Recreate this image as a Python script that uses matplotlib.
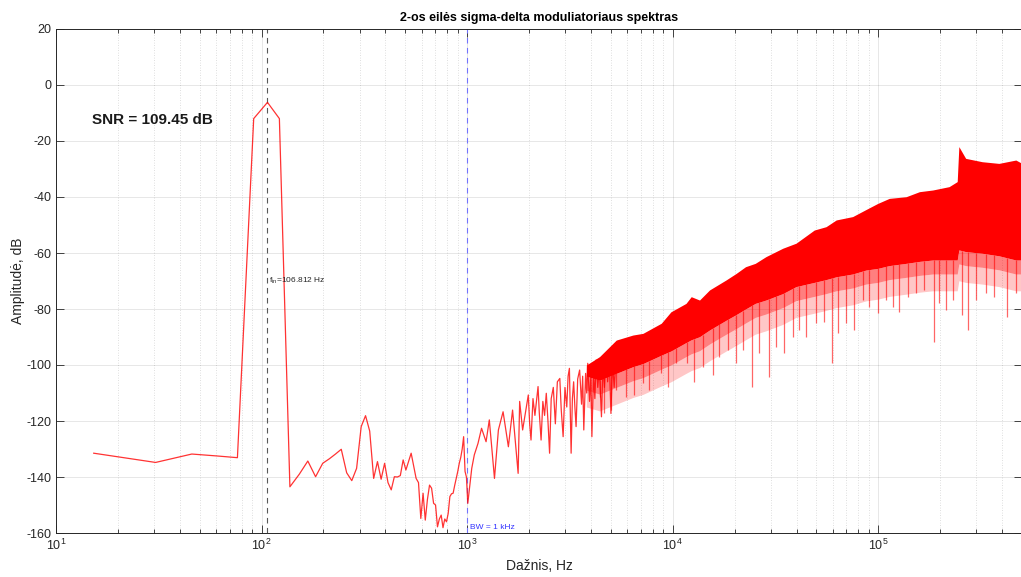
import matplotlib
matplotlib.use("Agg")
import matplotlib.pyplot as plt
import numpy as np
from matplotlib.ticker import LogLocator, MultipleLocator, NullFormatter

# FFT bin width: fs = 1 MHz, N = 65536
df = 1e6 / 65536

# individually visible bins (low frequency part), bin index and amplitude in dB
lo_bins = [1, 2, 3, 4, 5, 6, 7, 8, 9, 10, 11, 12, 13, 14, 15, 16, 17, 18, 19, 20,
           21, 22, 23, 24, 25, 26, 27, 28, 29, 30, 31, 32, 33, 34, 35, 36, 37, 38, 39, 40,
           41, 42, 43, 44, 45, 46, 47, 48, 49, 50, 51, 52, 53, 54, 55, 56, 57, 58, 59, 60,
           61, 62, 63, 64, 65, 66, 69, 71, 74, 77, 81, 84, 89, 93, 98, 104, 109, 116, 118, 122,
           130, 132, 134, 137, 140, 145, 147, 150, 153, 156, 159, 162, 165, 168, 172, 176,
           180, 185, 188, 192, 196, 200, 203, 206, 210, 213, 216, 219, 222, 226, 231, 236,
           239, 242, 247, 250, 253, 258, 262, 265, 270, 274, 278, 283, 288, 295, 300, 305,
           311, 316, 322, 328, 334, 340, 348]
lo_db = [-131.5, -134.8, -131.8, -132.5, -133.1, -12.0, -6.2, -12.0, -143.5, -139.0,
         -134.3, -139.9, -135.1, -133.5, -131.8, -130.1, -138.5, -141.3, -136.9, -122.0,
         -118.1, -123.6, -140.5, -134.5, -140.8, -135.1, -142.0, -144.6, -139.9, -140.0,
         -139.5, -133.9, -137.5, -134.5, -131.5, -136.0, -140.5, -142.0, -154.8, -145.8,
         -155.4, -148.0, -142.9, -144.0, -149.4, -150.0, -157.8, -155.0, -153.6, -158.1,
         -155.0, -156.0, -153.0, -147.0, -146.0, -145.8, -143.0, -140.5, -138.0, -135.1,
         -133.0, -130.0, -125.6, -138.0, -140.0, -149.4, -136.9, -132.1, -128.0, -122.6,
         -127.4, -119.6, -140.5, -123.2, -116.7, -129.2, -116.1, -138.7, -113.0, -123.2,
         -110.7, -121.0, -126.8, -112.0, -118.0, -107.7, -117.0, -126.8, -113.0, -118.0,
         -110.1, -120.0, -131.5, -112.0, -108.0, -121.0, -106.0, -104.8, -116.0, -125.6,
         -108.0, -115.0, -104.0, -101.2, -131.5, -112.0, -106.0, -115.0, -122.0, -105.0,
         -101.8, -114.0, -104.0, -123.2, -103.0, -110.0, -99.4, -113.0, -104.0, -125.6,
         -103.0, -112.0, -98.2, -108.0, -101.0, -118.5, -100.0, -108.0, -95.8, -106.0,
         -98.0, -117.3, -99.0, -108.0, -97.0]

# dense noise region: envelope
band_f = [3800, 4406, 5311, 6400, 7161, 8790, 9800, 11600, 12300, 13500, 15100, 18200,
          20340, 22600, 25200, 28400, 34300, 39800, 48800, 55700, 62400, 75000, 87000,
          99300, 113000, 136500, 158500, 184000, 221000, 242000, 246500, 266000, 320000,
          386000, 466600, 500000]
band_top = [-100.0, -97.0, -91.1, -89.3, -88.7, -85.1, -81.0, -78.0, -75.6, -76.8, -73.2,
            -69.6, -67.3, -64.9, -63.7, -61.3, -58.3, -56.5, -51.8, -50.6, -48.2, -47.0,
            -44.5, -42.3, -40.5, -39.9, -38.1, -37.5, -36.3, -34.5, -22.0, -26.2, -27.4,
            -28.0, -26.8, -28.0]
band_bot = [-104.0, -105.4, -103.0, -100.6, -99.5, -96.5, -95.0, -92.0, -91.0, -89.9,
            -87.5, -84.0, -82.0, -80.0, -78.0, -76.8, -74.5, -72.0, -70.5, -69.5, -68.5,
            -67.5, -66.1, -65.5, -64.5, -63.7, -63.0, -62.5, -62.5, -62.5, -58.9, -59.5,
            -60.1, -61.0, -62.5, -62.5]

# downward streaks below the dense band
spike_f = [4406, 4656, 5020, 5311, 5941, 6516, 7161, 7656, 8790, 9470, 10400, 11700,
           12650, 14000, 15660, 16870, 18530, 20340, 21920, 24230, 26400, 29520, 31830,
           34930, 38360, 41330, 44480, 49770, 54660, 59340, 63460, 69640, 75860, 83910,
           90390, 99290, 108900, 117400, 126500, 138900, 152500, 167400, 185800, 197800,
           213100, 229700, 254100, 273700, 298200, 333600, 366300, 422000, 466600]
spike_db = [-111.3, -117.3, -116.1, -108.9, -111.3, -110.7, -106.5, -108.9, -103.0,
            -107.7, -99.4, -99.4, -105.9, -100.6, -103.6, -97.0, -94.6, -99.4, -94.6,
            -107.7, -95.8, -104.2, -93.4, -95.8, -89.9, -87.5, -89.9, -85.1, -84.5, -99.4,
            -88.7, -85.1, -87.5, -76.8, -79.2, -81.5, -76.8, -79.2, -80.9, -75.6, -74.4,
            -73.2, -91.7, -78.0, -80.4, -76.8, -82.1, -87.5, -76.8, -74.4, -75.6, -82.7,
            -74.4]

f_in = 106.812
bw = 1000
snr = 109.45

plt.rcParams['font.family'] = ['Liberation Sans', 'DejaVu Sans']
plt.rcParams['axes.unicode_minus'] = False
plt.rcParams['mathtext.default'] = 'regular'

fig = plt.figure(figsize=(10.21, 5.77), dpi=100)
ax = fig.add_axes([56 / 1021, 44 / 577, 966 / 1021, 504 / 577])

red = (1.0, 0.0, 0.0)
lo_f = np.array(lo_bins) * df
ax.plot(lo_f, lo_db, color=red, lw=0.9, alpha=0.8, zorder=3)

# solid band with a streaky (lighter) fringe below it
bf = np.array(band_f)
bot = np.array(band_bot)
ax.fill_between(bf, bot - 11, bot - 5, color=red, alpha=0.22, lw=0, zorder=3)
ax.fill_between(bf, bot - 5, bot, color=red, alpha=0.5, lw=0, zorder=3)
ax.fill_between(bf, bot, band_top, color=red, lw=0, zorder=3)
top_at = np.interp(np.log10(spike_f), np.log10(bf), band_bot)
ax.vlines(spike_f, spike_db, top_at, color=red, lw=0.9, alpha=0.6, zorder=3)

# marker lines
ax.axvline(f_in, color=(0.35, 0.35, 0.35), ls=(0, (5, 4)), lw=0.8, zorder=2)
ax.axvline(bw, color=(0.45, 0.45, 1.0), ls=(0, (5, 4)), lw=0.8, zorder=2)
ax.text(f_in * 1.02, -70, r'f$_{in}$=106.812 Hz', fontsize=6, color=(0.15, 0.15, 0.15),
        va='center', ha='left')
ax.text(bw * 1.03, -158, 'BW = 1 kHz', fontsize=6, color=(0.2, 0.2, 1.0),
        va='center', ha='left')
ax.text(15, -12.5, f'SNR = {snr:.2f} dB', fontsize=11, fontweight='bold',
        color=(0.1, 0.1, 0.1), va='center', ha='left')

ax.set_xscale('log')
ax.set_xlim(10, 5e5)
ax.set_ylim(-160, 20)
ax.yaxis.set_major_locator(MultipleLocator(20))
ax.xaxis.set_major_locator(LogLocator(base=10, numticks=10))
ax.xaxis.set_minor_locator(LogLocator(base=10, subs=np.arange(2, 10), numticks=100))
ax.xaxis.set_minor_formatter(NullFormatter())

ax.grid(True, which='major', color=(0.15, 0.15, 0.15), alpha=0.13, lw=0.6)
ax.grid(True, which='minor', axis='x', color=(0.15, 0.15, 0.15), alpha=0.2, lw=0.6,
        ls=(0, (1, 2)))
ax.set_axisbelow(True)

ax.tick_params(which='both', direction='in', top=True, right=True, colors=(0.15, 0.15, 0.15),
               labelsize=9, width=0.6)
ax.tick_params(which='major', length=6)
ax.tick_params(which='minor', length=3)
for s in ax.spines.values():
    s.set_color((0.15, 0.15, 0.15))
    s.set_linewidth(0.7)

ax.set_title('2-os eilės sigma-delta moduliatoriaus spektras', fontsize=9,
             fontweight='bold', pad=6)
ax.set_xlabel('Dažnis, Hz', fontsize=10, color=(0.15, 0.15, 0.15), labelpad=4)
ax.set_ylabel('Amplitudė, dB', fontsize=10, color=(0.15, 0.15, 0.15), labelpad=1)

fig.savefig('out.png', dpi=100)
